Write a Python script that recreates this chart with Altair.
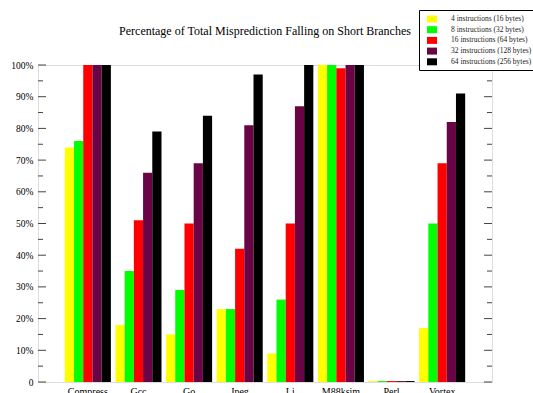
import altair as alt
import pandas as pd

# Benchmarks and the share of total misprediction that falls on short branches
benchmarks = ["Compress", "Gcc", "Go", "Jpeg", "Li", "M88ksim", "Perl", "Vortex"]
series = [
    "4 instructions (16 bytes)",
    "8 instructions (32 bytes)",
    "16 instructions (64 bytes)",
    "32 instructions (128 bytes)",
    "64 instructions (256 bytes)",
]
s4 = [74, 18, 15, 23, 9, 100, 0.3, 17]
s8 = [76, 35, 29, 23, 26, 100, 0.3, 50]
s16 = [100, 51, 50, 42, 50, 99, 0.3, 69]
s32 = [100, 66, 69, 81, 87, 100, 0.3, 82]
s64 = [100, 79, 84, 97, 100, 100, 0.3, 91]
colors = ["#ffff00", "#00ff00", "#ff0000", "#690545", "#000000"]

major_ticks = list(range(0, 101, 10))
minor_ticks = list(range(5, 100, 10))

rows = []
for name, vals in zip(series, [s4, s8, s16, s32, s64]):
    for b, v in zip(benchmarks, vals):
        rows.append({"benchmark": b, "series": name, "pct": v})
df = pd.DataFrame(rows)

SERIF = "Liberation Serif"
W, H = 454, 317
AXIS_COLOR = "#444444"

y_scale = alt.Scale(domain=[0, 100], nice=False, zero=True)
y_axis = alt.Axis(
    title=None, values=major_ticks, ticks=False, domain=False, grid=False,
    labelExpr="datum.value == 0 ? '0' : datum.value + '%'",
    labelFont=SERIF, labelFontSize=9.5, labelColor="black", labelPadding=5,
)

bars = alt.Chart(df).mark_bar(strokeWidth=0).encode(
    x=alt.X(
        "benchmark:N",
        sort=benchmarks,
        scale=alt.Scale(paddingInner=0.09, paddingOuter=0.53),
        axis=alt.Axis(
            title=None, ticks=False, domain=False, labelAngle=0,
            labelFont=SERIF, labelFontSize=10, labelColor="black", labelPadding=4,
        ),
    ),
    xOffset=alt.XOffset("series:N", sort=series,
                        scale=alt.Scale(paddingInner=0, paddingOuter=0)),
    y=alt.Y("pct:Q", scale=y_scale, axis=y_axis),
    color=alt.Color(
        "series:N",
        sort=series,
        scale=alt.Scale(domain=series, range=colors),
        legend=alt.Legend(
            orient="none", legendX=381, legendY=-55, title=None,
            symbolType="M-0.2,-0.7H1.8V0.7H-0.2Z", symbolSize=100,
            symbolStrokeWidth=0, symbolOpacity=1,
            labelFont=SERIF, labelFontSize=7.5, labelColor="#222222",
            labelOffset=18, padding=4, rowPadding=1.7,
            strokeColor="black", fillColor="white",
        ),
    ),
)

major_df = pd.DataFrame({"v": major_ticks})
minor_df = pd.DataFrame({"v": minor_ticks})

def tick_layer(data, x0, x1):
    return alt.Chart(data).mark_rule(color=AXIS_COLOR, strokeWidth=1).encode(
        y=alt.Y("v:Q", scale=y_scale, axis=y_axis),
        x=alt.value(x0),
        x2=alt.value(x1),
    )

ticks = (
    tick_layer(major_df, 0, 8)
    + tick_layer(minor_df, 0, 5)
    + tick_layer(major_df, W, W - 8)
    + tick_layer(minor_df, W, W - 5)
)

chart = (
    alt.layer(bars, ticks)
    .properties(
        width=W,
        height=H,
        title=alt.Title(
            "Percentage of Total Misprediction Falling on Short Branches",
            font=SERIF, fontSize=12, fontWeight="normal", color="black",
            anchor="middle", frame="group", offset=-28,
        ),
        autosize=alt.AutoSizeParams(type="none"),
        padding={"left": 38, "top": 65, "right": 41, "bottom": 11},
    )
    .configure_view(stroke=AXIS_COLOR, strokeWidth=1.2)
    .configure(background="white")
)

chart.save("out.html", embed_options={"renderer": "svg", "actions": False})
